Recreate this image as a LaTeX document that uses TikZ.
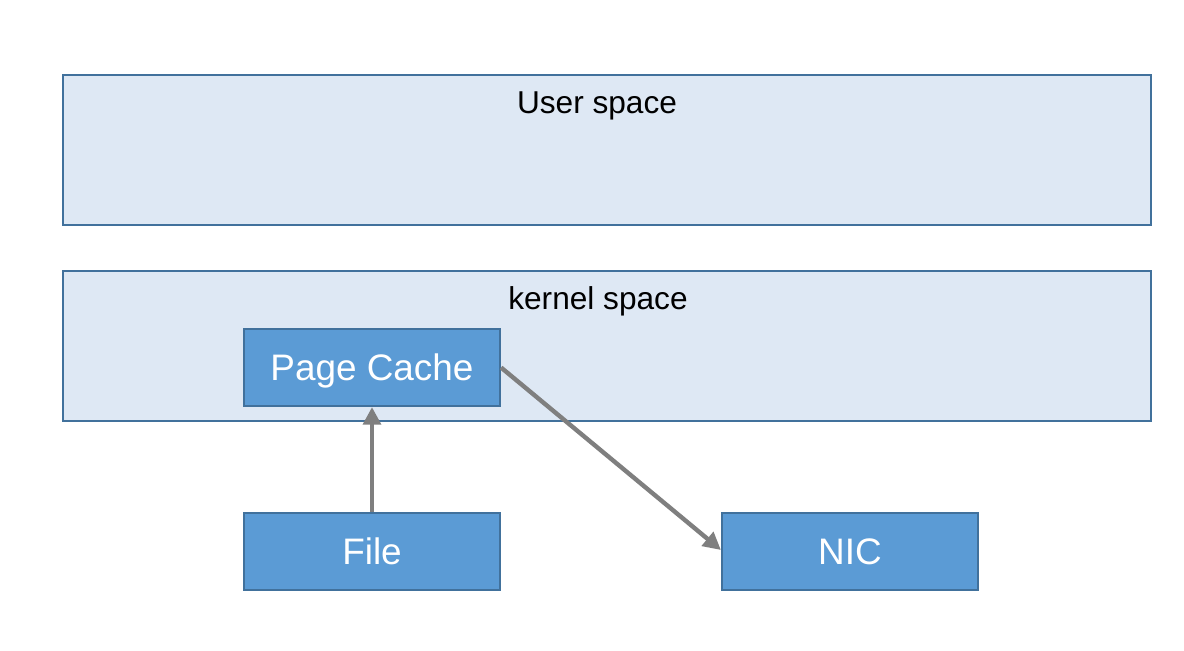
\documentclass[tikz,border=0pt]{standalone}
\usepackage{fontspec}
\setmainfont{Liberation Sans}
\usetikzlibrary{arrows.meta}
\definecolor{lightfill}{HTML}{DEE8F4}
\definecolor{edge}{HTML}{41719C}
\definecolor{bluefill}{HTML}{5B9BD5}
\definecolor{arrowgray}{HTML}{7F7F7F}
\begin{document}
\begin{tikzpicture}[x=0.02cm,y=-0.02cm,
  layer/.style={draw=edge,fill=lightfill,line width=1.2pt,minimum width=1088*0.02cm,minimum height=150*0.02cm,inner sep=0pt},
  bluebox/.style={draw=edge,fill=bluefill,line width=1.2pt,text=white,minimum width=256*0.02cm,minimum height=77*0.02cm,inner sep=0pt,
    font=\fontsize{21pt}{24pt}\selectfont,text height=15pt,text depth=-1pt},
  lbl/.style={font=\fontsize{18pt}{21pt}\selectfont,text=black,text height=12.9pt,text depth=0pt,inner sep=0pt},
  conn/.style={draw=arrowgray,line width=2.5pt,-{Triangle[length=10pt,width=10pt]}}]
\useasboundingbox (0,0) rectangle (1184,650);
\node[layer] (userbox) at (607,150) {};
\node[lbl] (user) at (597,102) {User space};
\node[layer] (kernelbox) at (607,346) {};
\node[lbl] (kernel) at (598,298) {kernel space};
\node[bluebox] (pc) at (372,367.5) {Page Cache};
\node[bluebox] (file) at (372,551.5) {File};
\node[bluebox] (nic) at (850,551.5) {NIC};
\draw[conn] (file.north) -- (pc.south);
\draw[conn] (pc.east) -- ([yshift=0.03cm]nic.west);
\end{tikzpicture}
\end{document}
